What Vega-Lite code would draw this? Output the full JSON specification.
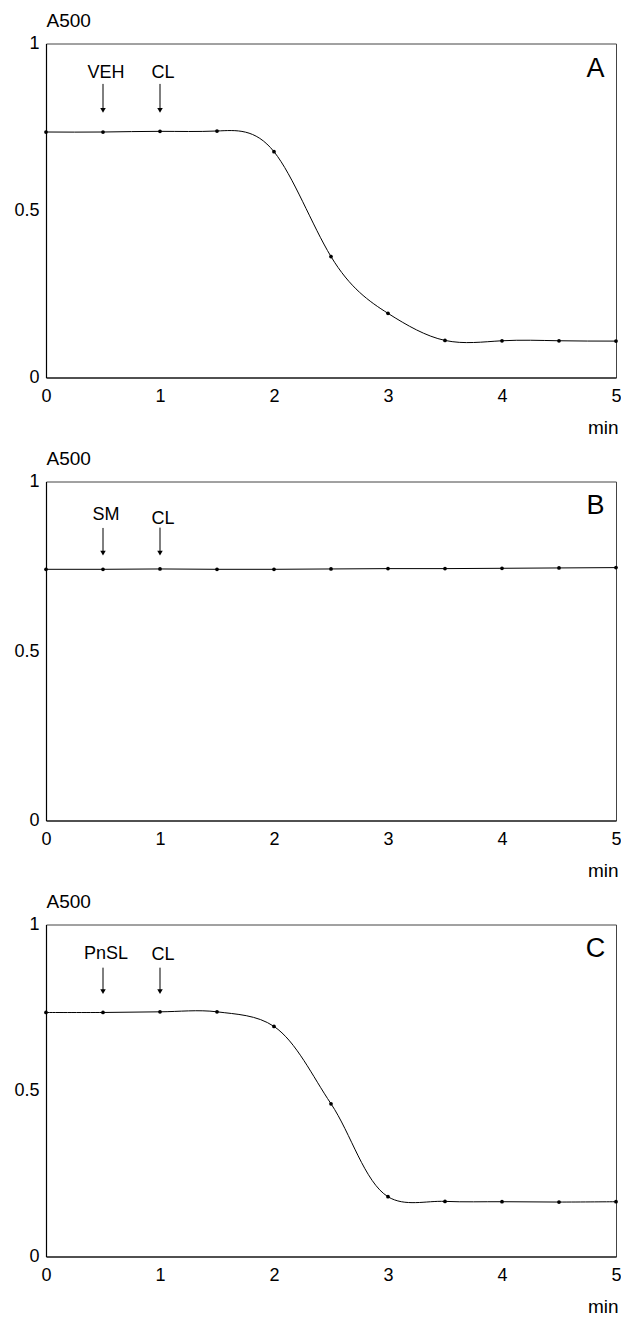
{
  "$schema": "https://vega.github.io/schema/vega-lite/v6.json",
  "background": "white",
  "padding": {"left": 13, "top": 10.5, "right": 0, "bottom": 2},
  "config": {
    "font": "Liberation Sans",
    "view": {"stroke": "#444", "strokeWidth": 1},
    "axis": {"grid": false, "ticks": false, "domainColor": "black", "domainWidth": 1.2, "labelColor": "black", "labelFontSize": 18, "labelFont": "Liberation Sans", "titleFont": "Liberation Sans", "titleFontWeight": "normal", "titleColor": "black", "titleFontSize": 19}
  },
  "datasets": {
    "curves": [
      {"panel": "A", "t": 0, "a": 0.735}, {"panel": "A", "t": 0.5, "a": 0.735}, {"panel": "A", "t": 1, "a": 0.737}, {"panel": "A", "t": 1.5, "a": 0.738}, {"panel": "A", "t": 2, "a": 0.676}, {"panel": "A", "t": 2.5, "a": 0.362}, {"panel": "A", "t": 3, "a": 0.192}, {"panel": "A", "t": 3.5, "a": 0.111}, {"panel": "A", "t": 4, "a": 0.11}, {"panel": "A", "t": 4.5, "a": 0.11}, {"panel": "A", "t": 5, "a": 0.109},
      {"panel": "B", "t": 0, "a": 0.741}, {"panel": "B", "t": 0.5, "a": 0.741}, {"panel": "B", "t": 1, "a": 0.742}, {"panel": "B", "t": 1.5, "a": 0.741}, {"panel": "B", "t": 2, "a": 0.741}, {"panel": "B", "t": 2.5, "a": 0.742}, {"panel": "B", "t": 3, "a": 0.743}, {"panel": "B", "t": 3.5, "a": 0.743}, {"panel": "B", "t": 4, "a": 0.744}, {"panel": "B", "t": 4.5, "a": 0.745}, {"panel": "B", "t": 5, "a": 0.746},
      {"panel": "C", "t": 0, "a": 0.735}, {"panel": "C", "t": 0.5, "a": 0.735}, {"panel": "C", "t": 1, "a": 0.737}, {"panel": "C", "t": 1.5, "a": 0.737}, {"panel": "C", "t": 2, "a": 0.693}, {"panel": "C", "t": 2.5, "a": 0.46}, {"panel": "C", "t": 3, "a": 0.18}, {"panel": "C", "t": 3.5, "a": 0.166}, {"panel": "C", "t": 4, "a": 0.165}, {"panel": "C", "t": 4.5, "a": 0.164}, {"panel": "C", "t": 5, "a": 0.165}
    ],
    "arrows": [
      {"panel": "A", "t": 0.5, "top": 0.879, "head": 0.8, "labelY": 0.912, "label": "VEH"},
      {"panel": "A", "t": 1, "top": 0.879, "head": 0.8, "labelY": 0.912, "label": "CL"},
      {"panel": "B", "t": 0.5, "top": 0.863, "head": 0.789, "labelY": 0.9, "label": "SM"},
      {"panel": "B", "t": 1, "top": 0.864, "head": 0.789, "labelY": 0.888, "label": "CL"},
      {"panel": "C", "t": 0.5, "top": 0.87, "head": 0.798, "labelY": 0.91, "label": "PnSL"},
      {"panel": "C", "t": 1, "top": 0.87, "head": 0.798, "labelY": 0.907, "label": "CL"}
    ],
    "letters": [
      {"panel": "A", "t": 4.82, "a": 0.924},
      {"panel": "B", "t": 4.82, "a": 0.929},
      {"panel": "C", "t": 4.82, "a": 0.925}
    ]
  },
  "vconcat": [
    {
      "width": 570, "height": 334,
      "layer": [
        {"data": {"name": "curves"}, "transform": [{"filter": "datum.panel === 'A'"}], "mark": {"type": "line", "interpolate": "natural", "color": "black", "strokeWidth": 1},
         "encoding": {
           "x": {"field": "t", "type": "quantitative", "scale": {"domain": [0, 5], "nice": false}, "axis": {"values": [0, 1, 2, 3, 4, 5], "format": "d", "labelFlush": false, "labelPadding": 10, "title": "min", "titleAnchor": "end", "titleAlign": "right", "titleX": 572, "titleY": 56, "titleBaseline": "alphabetic"}},
           "y": {"field": "a", "type": "quantitative", "scale": {"domain": [0, 1], "nice": false}, "axis": {"values": [0, 0.5, 1], "format": "~g", "labelPadding": 7, "title": "A500", "titleAngle": 0, "titleAlign": "left", "titleX": 0, "titleY": -17.5, "titleBaseline": "alphabetic"}}
         }},
        {"data": {"name": "curves"}, "transform": [{"filter": "datum.panel === 'A'"}], "mark": {"type": "point", "filled": true, "color": "black", "size": 14, "opacity": 1},
         "encoding": {"x": {"field": "t", "type": "quantitative"}, "y": {"field": "a", "type": "quantitative"}}},
        {"data": {"name": "arrows"}, "transform": [{"filter": "datum.panel === 'A'"}], "mark": {"type": "rule", "color": "black", "strokeWidth": 1},
         "encoding": {"x": {"field": "t", "type": "quantitative"}, "y": {"field": "top", "type": "quantitative"}, "y2": {"field": "head"}}},
        {"data": {"name": "arrows"}, "transform": [{"filter": "datum.panel === 'A'"}], "mark": {"type": "point", "shape": "triangle-down", "filled": true, "color": "black", "size": 30, "opacity": 1},
         "encoding": {"x": {"field": "t", "type": "quantitative"}, "y": {"field": "head", "type": "quantitative"}}},
        {"data": {"name": "arrows"}, "transform": [{"filter": "datum.panel === 'A'"}], "mark": {"type": "text", "font": "Liberation Sans", "fontSize": 18, "align": "center", "baseline": "middle", "dx": 3, "color": "black"},
         "encoding": {"x": {"field": "t", "type": "quantitative"}, "y": {"field": "labelY", "type": "quantitative"}, "text": {"field": "label"}}},
        {"data": {"name": "letters"}, "transform": [{"filter": "datum.panel === 'A'"}], "mark": {"type": "text", "font": "Liberation Sans", "fontSize": 27, "align": "center", "baseline": "middle", "color": "black"},
         "encoding": {"x": {"field": "t", "type": "quantitative"}, "y": {"field": "a", "type": "quantitative"}, "text": {"field": "panel"}}}
      ]
    },
    {
      "width": 570, "height": 339,
      "layer": [
        {"data": {"name": "curves"}, "transform": [{"filter": "datum.panel === 'B'"}], "mark": {"type": "line", "interpolate": "natural", "color": "black", "strokeWidth": 1},
         "encoding": {
           "x": {"field": "t", "type": "quantitative", "scale": {"domain": [0, 5], "nice": false}, "axis": {"values": [0, 1, 2, 3, 4, 5], "format": "d", "labelFlush": false, "labelPadding": 10, "title": "min", "titleAnchor": "end", "titleAlign": "right", "titleX": 572, "titleY": 56, "titleBaseline": "alphabetic"}},
           "y": {"field": "a", "type": "quantitative", "scale": {"domain": [0, 1], "nice": false}, "axis": {"values": [0, 0.5, 1], "format": "~g", "labelPadding": 7, "title": "A500", "titleAngle": 0, "titleAlign": "left", "titleX": 0, "titleY": -17.5, "titleBaseline": "alphabetic"}}
         }},
        {"data": {"name": "curves"}, "transform": [{"filter": "datum.panel === 'B'"}], "mark": {"type": "point", "filled": true, "color": "black", "size": 14, "opacity": 1},
         "encoding": {"x": {"field": "t", "type": "quantitative"}, "y": {"field": "a", "type": "quantitative"}}},
        {"data": {"name": "arrows"}, "transform": [{"filter": "datum.panel === 'B'"}], "mark": {"type": "rule", "color": "black", "strokeWidth": 1},
         "encoding": {"x": {"field": "t", "type": "quantitative"}, "y": {"field": "top", "type": "quantitative"}, "y2": {"field": "head"}}},
        {"data": {"name": "arrows"}, "transform": [{"filter": "datum.panel === 'B'"}], "mark": {"type": "point", "shape": "triangle-down", "filled": true, "color": "black", "size": 30, "opacity": 1},
         "encoding": {"x": {"field": "t", "type": "quantitative"}, "y": {"field": "head", "type": "quantitative"}}},
        {"data": {"name": "arrows"}, "transform": [{"filter": "datum.panel === 'B'"}], "mark": {"type": "text", "font": "Liberation Sans", "fontSize": 18, "align": "center", "baseline": "middle", "dx": 3, "color": "black"},
         "encoding": {"x": {"field": "t", "type": "quantitative"}, "y": {"field": "labelY", "type": "quantitative"}, "text": {"field": "label"}}},
        {"data": {"name": "letters"}, "transform": [{"filter": "datum.panel === 'B'"}], "mark": {"type": "text", "font": "Liberation Sans", "fontSize": 27, "align": "center", "baseline": "middle", "color": "black"},
         "encoding": {"x": {"field": "t", "type": "quantitative"}, "y": {"field": "a", "type": "quantitative"}, "text": {"field": "panel"}}}
      ]
    },
    {
      "width": 570, "height": 332,
      "layer": [
        {"data": {"name": "curves"}, "transform": [{"filter": "datum.panel === 'C'"}], "mark": {"type": "line", "interpolate": "catmull-rom", "color": "black", "strokeWidth": 1},
         "encoding": {
           "x": {"field": "t", "type": "quantitative", "scale": {"domain": [0, 5], "nice": false}, "axis": {"values": [0, 1, 2, 3, 4, 5], "format": "d", "labelFlush": false, "labelPadding": 10, "title": "min", "titleAnchor": "end", "titleAlign": "right", "titleX": 572, "titleY": 56, "titleBaseline": "alphabetic"}},
           "y": {"field": "a", "type": "quantitative", "scale": {"domain": [0, 1], "nice": false}, "axis": {"values": [0, 0.5, 1], "format": "~g", "labelPadding": 7, "title": "A500", "titleAngle": 0, "titleAlign": "left", "titleX": 0, "titleY": -17.5, "titleBaseline": "alphabetic"}}
         }},
        {"data": {"name": "curves"}, "transform": [{"filter": "datum.panel === 'C'"}], "mark": {"type": "point", "filled": true, "color": "black", "size": 14, "opacity": 1},
         "encoding": {"x": {"field": "t", "type": "quantitative"}, "y": {"field": "a", "type": "quantitative"}}},
        {"data": {"name": "arrows"}, "transform": [{"filter": "datum.panel === 'C'"}], "mark": {"type": "rule", "color": "black", "strokeWidth": 1},
         "encoding": {"x": {"field": "t", "type": "quantitative"}, "y": {"field": "top", "type": "quantitative"}, "y2": {"field": "head"}}},
        {"data": {"name": "arrows"}, "transform": [{"filter": "datum.panel === 'C'"}], "mark": {"type": "point", "shape": "triangle-down", "filled": true, "color": "black", "size": 30, "opacity": 1},
         "encoding": {"x": {"field": "t", "type": "quantitative"}, "y": {"field": "head", "type": "quantitative"}}},
        {"data": {"name": "arrows"}, "transform": [{"filter": "datum.panel === 'C'"}], "mark": {"type": "text", "font": "Liberation Sans", "fontSize": 18, "align": "center", "baseline": "middle", "dx": 3, "color": "black"},
         "encoding": {"x": {"field": "t", "type": "quantitative"}, "y": {"field": "labelY", "type": "quantitative"}, "text": {"field": "label"}}},
        {"data": {"name": "letters"}, "transform": [{"filter": "datum.panel === 'C'"}], "mark": {"type": "text", "font": "Liberation Sans", "fontSize": 27, "align": "center", "baseline": "middle", "color": "black"},
         "encoding": {"x": {"field": "t", "type": "quantitative"}, "y": {"field": "a", "type": "quantitative"}, "text": {"field": "panel"}}}
      ]
    }
  ],
  "spacing": 104,
  "bounds": "flush"
}
